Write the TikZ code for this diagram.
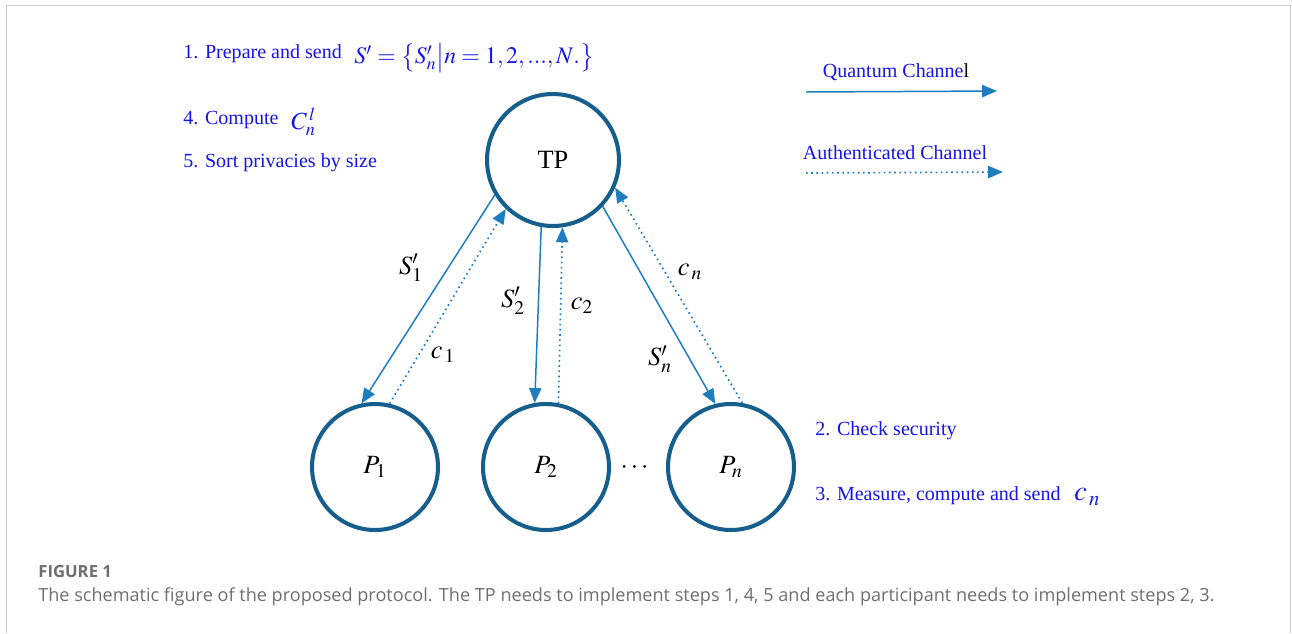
\documentclass[tikz,border=0pt]{standalone}
\usepackage{amsmath, amssymb}
\usepackage{mathptmx}
\usepackage[no-math]{fontspec}
\setmainfont{Liberation Serif}
\newfontfamily\capfont{Open Sans}
\usepackage{xcolor}
\usepackage{tikz}
\usetikzlibrary{arrows.meta, positioning, calc}
\definecolor{tpring}{RGB}{22, 94, 140}
\definecolor{chanblue}{RGB}{30, 125, 190}
\definecolor{stepblue}{RGB}{20, 20, 235}
\definecolor{capgray}{RGB}{110, 110, 110}
\definecolor{framegray}{RGB}{205, 205, 205}

\tikzset{
    party/.style={circle, draw=tpring, line width=2.3pt, minimum size=2.52cm, inner sep=0pt, font=\fontsize{15}{17}\selectfont},
    quantum/.style={draw=chanblue, line width=0.85pt, -{Triangle[length=8.5pt, width=7pt]}},
    authen/.style={draw=chanblue, line width=0.95pt, dotted, -{Triangle[length=8.5pt, width=7pt]}},
    steptext/.style={stepblue, anchor=west, inner sep=0pt, font=\fontsize{11.4}{13}\selectfont},
    chanlabel/.style={inner sep=0pt, font=\fontsize{15}{16}\selectfont}
}

\begin{document}
\begin{tikzpicture}[x=0.02cm, y=-0.02cm]
    \useasboundingbox (0,0) rectangle (1292,633);

    % Frame
    \draw[framegray, line width=1pt] (6.5,633) -- (6.5,5.5) -- (1290.5,5.5) -- (1290.5,633);

    % Parties
    \node[party, minimum size=2.64cm] (tp) at (553,160) {TP};
    \node[party] (p1) at (375,467) {$P_1$};
    \node[party] (p2) at (546,467) {$P_2$};
    \node[party] (pn) at (731,467) {$P_n$};
    \node[font=\fontsize{15}{17}\selectfont] (dots) at (636,468) {$\cdots$};

    % Quantum channels (TP -> participants)
    \draw[quantum] (tp.211) -- (p1.102);
    \draw[quantum] (tp.260) -- (p2.100);
    \draw[quantum] (tp.317) -- (pn.104);

    % Authenticated channels (participants -> TP)
    \draw[authen] (p1.77) -- (tp.226);
    \draw[authen] (p2.79) -- (tp.278);
    \draw[authen] (pn.80) -- (tp.336);

    % Channel labels
    \node[chanlabel] (ls1) at (411,268) {$S_1'$};
    \node[chanlabel] (lc1) at (443,355) {$c_{\,1}$};
    \node[chanlabel] (ls2) at (513,301) {$S_2'$};
    \node[chanlabel] (lc2) at (582,306) {$c_2$};
    \node[chanlabel] (lcn) at (690,272) {$c_{\,n}$};
    \node[chanlabel] (lsn) at (660,359) {$S_n'$};

    % TP steps
    \node[steptext] (st1) at (183,54) {1. Prepare and send};
    \node[steptext, font=\fontsize{13.5}{16}\selectfont] (set) at (354,58) {$S' = \bigl\{ S_n' \big| n = 1, 2, {.}{.}{.}, N. \bigr\}$};
    \node[steptext] (st4) at (183,120) {4. Compute};
    \node[steptext, font=\fontsize{14}{16}\selectfont] (cnl) at (291,122) {$C_n^{\,l}$};
    \node[steptext] (st5) at (183,163) {5. Sort privacies by size};

    % Participant steps
    \node[steptext] (st2) at (815,431) {2. Check security};
    \node[steptext] (st3) at (815,496) {3. Measure, compute and send};
    \node[steptext, font=\fontsize{16}{17}\selectfont] (cn) at (1074,497) {$\boldsymbol{c}_{\,n}$};

    % Legend
    \node[stepblue, font=\fontsize{11.4}{13}\selectfont] (qleg) at (896,72) {Quantum Channe{\color{black}l}};
    \coordinate (qa) at (806,92);
    \coordinate (qb) at (997,91);
    \draw[quantum] (qa) -- (qb);
    \node[stepblue, font=\fontsize{11.4}{13}\selectfont] (aleg) at (895,153) {Authenticated Channel};
    \coordinate (aa) at (806,173);
    \coordinate (ab) at (1003,172);
    \draw[authen] (aa) -- (ab);

    % Caption
    \node[capgray, anchor=west, inner sep=0pt, font=\capfont\bfseries\fontsize{9.5}{11}\selectfont] (figno) at (38,572) {FIGURE 1};
    \node[capgray, anchor=west, inner sep=0pt, font=\capfont\fontsize{10.3}{11}\selectfont] (cap) at (38,597) {The schematic figure of the proposed protocol. The TP needs to implement steps 1, 4, 5 and each participant needs to implement steps 2, 3.};
\end{tikzpicture}
\end{document}
